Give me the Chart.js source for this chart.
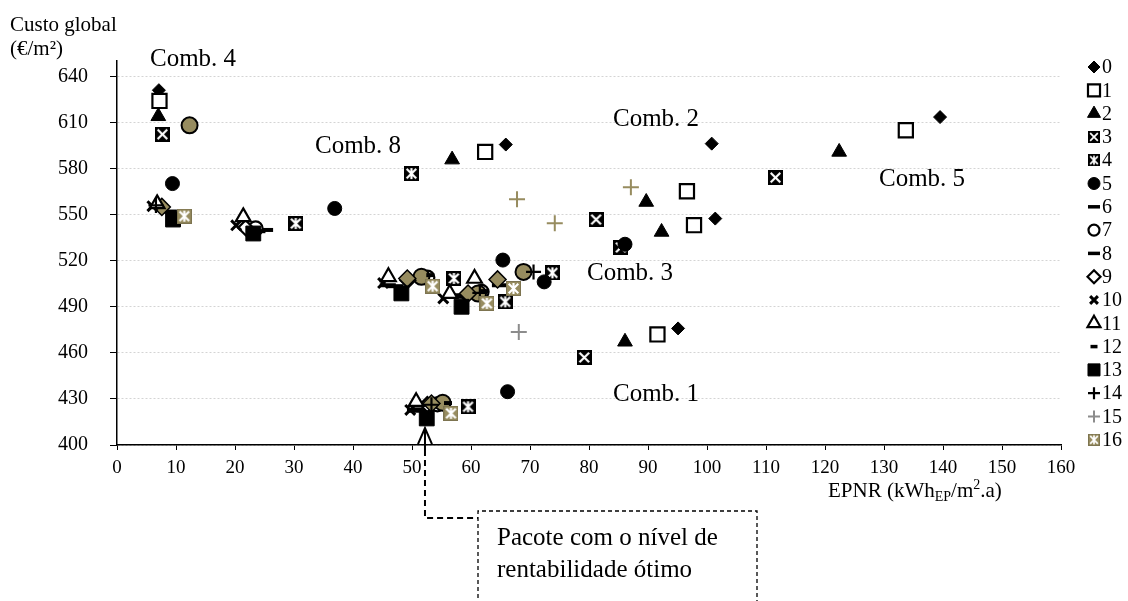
<!DOCTYPE html>
<html>
<head>
<meta charset="utf-8">
<script src="https://cdn.jsdelivr.net/npm/chart.js@4.4.0/dist/chart.umd.min.js"></script>
<style>
  html, body { margin: 0; padding: 0; background: #fff; }
  canvas { display: block; }
</style>
</head>
<body>
<canvas id="myChart" width="1128" height="601"></canvas>
<script>
// packages 0..16, points as [EPNR, custo global]
const s0 = [[7.1, 631], [65.9, 595.6], [100.8, 596.2], [139.5, 613.5], [101.4, 547.4], [95.1, 475.9]];
const s1 = [[7.2, 624], [62.4, 590.8], [96.6, 565.2], [133.7, 604.9], [97.8, 543.1], [91.6, 472]];
const s2 = [[7.0, 614], [56.8, 585.8], [89.7, 558.2], [122.4, 590.8], [92.3, 538.7], [86.1, 467.2]];
const s3 = [[7.7, 602.3], [81.2, 546.8], [111.6, 574.1], [79.2, 457], [85.4, 528.6]];
const s4 = [[49.9, 576.7], [30.3, 544.2], [57.1, 508.4], [73.8, 512.1], [65.8, 493.2], [59.5, 424.9]];
const s5 = [[9.4, 570.2], [36.9, 554], [65.4, 520.4], [72.4, 506.2], [86.1, 530.7], [66.2, 434.7]];
const s6 = [[25.1, 540], [45.9, 504], [64.9, 504], [58.1, 497.5], [50.5, 422.3]];
const s7 = [[23.5, 541], [61.8, 499.7], [52.6, 509], [54.3, 426.5]];
const s8 = [[23.8, 539.2], [47.2, 503.4], [57.3, 496.5], [51.3, 423.2], [8.8, 552]];
const s9 = [[21.8, 541.5], [49.3, 507.3], [59.3, 497.8], [52.6, 426.4]];
const s10 = [[6.0, 555.5], [20.2, 543], [45.1, 505.4], [55.3, 495.4], [49.7, 422.8]];
const s11 = [[6.8, 557], [21.4, 548.5], [46, 509.5], [60.6, 508.4], [56.4, 498.6], [50.7, 428.2]];
const s12 = [[53.1, 510.6], [56.1, 427.3], [62.3, 500.2]];
const s13 = [[9.5, 546.8], [23.1, 537.7], [48.2, 498.7], [58.4, 490], [52.5, 417.3]];
const s14 = [[6.6, 556], [70.6, 512.7], [61.5, 499], [53.3, 426.2]];
const s15 = [[68.1, 473.5]];
const s16 = [[11.4, 549], [53.5, 503.4], [67.2, 501.9], [62.7, 492.2], [56.6, 420.6]];
// extra marks in the plot that the legend does not list
const olivePlus = [[67.8, 560], [74.2, 544.4], [87.1, 567.8]];
const oliveCircle = [[12.3, 608.1], [51.6, 509.5], [68.9, 512.7], [61.2, 498.6], [55.2, 427.5]];
const oliveDiamond = [[7.6, 555], [49.2, 508.4], [64.5, 507.8], [59.5, 498.6], [53.3, 427]];

const legendLabels = ['0', '1', '2', '3', '4', '5', '6', '7', '8', '9', '10', '11', '12', '13', '14', '15', '16'];
const yTicks = [400, 430, 460, 490, 520, 550, 580, 610, 640];
const xTicks = [0, 10, 20, 30, 40, 50, 60, 70, 80, 90, 100, 110, 120, 130, 140, 150, 160];
const combLabels = [
  { text: 'Comb. 4', x: 150, y: 66 },
  { text: 'Comb. 8', x: 315, y: 153 },
  { text: 'Comb. 2', x: 613, y: 126 },
  { text: 'Comb. 5', x: 879, y: 186 },
  { text: 'Comb. 3', x: 587, y: 280 },
  { text: 'Comb. 1', x: 613, y: 401 }
];

const OLIVE = '#978c5f';
const SERIF = "'Liberation Serif', 'Times New Roman', serif";

function xSquare(size, fill, star) {
  const c = document.createElement('canvas');
  c.width = c.height = size;
  const g = c.getContext('2d');
  g.fillStyle = fill;
  g.fillRect(0, 0, size, size);
  g.strokeStyle = '#fff';
  g.lineWidth = Math.max(1.5, size / 7);
  const m = size * 0.18;
  g.beginPath();
  g.moveTo(m, m); g.lineTo(size - m, size - m);
  g.moveTo(size - m, m); g.lineTo(m, size - m);
  if (star) { g.moveTo(size / 2, m * 0.7); g.lineTo(size / 2, size - m * 0.7); }
  g.stroke();
  g.strokeStyle = fill === '#000' ? '#000' : '#7d7450';
  g.lineWidth = 1;
  g.strokeRect(0.5, 0.5, size - 1, size - 1);
  return c;
}

const img3 = xSquare(15, '#000', false);
const img4 = xSquare(15, '#000', true);
const img16 = xSquare(15, OLIVE, true);
const img3s = xSquare(12, '#000', false);
const img4s = xSquare(12, '#000', true);
const img16s = xSquare(12, OLIVE, true);

const toPts = arr => arr.map(p => ({ x: p[0], y: p[1] }));

// marker look per series (lr = radius used in the legend)
const series = [
  { data: s0, ps: 'rectRot', r: 6.5, bg: '#000', bc: '#000', bw: 1, lr: 6 },
  { data: s1, ps: 'rect', r: 10, bg: '#fff', bc: '#000', bw: 2.2, lr: 8.5 },
  { data: s2, ps: 'triangle', r: 8.5, bg: '#000', bc: '#000', bw: 1, lr: 7.5 },
  { data: s3, ps: img3, r: 8, bg: '#000', bc: '#000', bw: 1, limg: img3s },
  { data: s4, ps: img4, r: 8, bg: '#000', bc: '#000', bw: 1, limg: img4s },
  { data: s5, ps: 'circle', r: 7, bg: '#000', bc: '#000', bw: 1, lr: 6 },
  { data: s6, ps: 'line', r: 8, bg: '#000', bc: '#000', bw: 4, lr: 6 },
  { data: s7, ps: 'circle', r: 7, bg: '#fff', bc: '#000', bw: 2.2, lr: 5.5 },
  { data: s8, ps: 'line', r: 8, bg: '#000', bc: '#000', bw: 4, lr: 6 },
  { data: s9, ps: 'rectRot', r: 7.5, bg: '#fff', bc: '#000', bw: 2.2, lr: 6.5 },
  { data: s10, ps: 'crossRot', r: 7, bg: '#000', bc: '#000', bw: 3, lr: 5.5 },
  { data: s11, ps: 'triangle', r: 8.5, bg: '#fff', bc: '#000', bw: 2.2, lr: 7.5 },
  { data: s12, ps: 'line', r: 4, bg: '#000', bc: '#000', bw: 4, lr: 3.5 },
  { data: s13, ps: 'rect', r: 10.5, bg: '#000', bc: '#000', bw: 1, lr: 8.5 },
  { data: s14, ps: 'cross', r: 7.5, bg: '#000', bc: '#000', bw: 2.2, lr: 6 },
  { data: s15, ps: 'cross', r: 8, bg: '#8c8c8c', bc: '#8c8c8c', bw: 2, lr: 6 },
  { data: s16, ps: img16, r: 8, bg: OLIVE, bc: OLIVE, bw: 1, limg: img16s }
];
const extras = [
  { data: olivePlus, ps: 'cross', r: 8, bg: OLIVE, bc: OLIVE, bw: 2, after: 15 },
  { data: oliveCircle, ps: 'circle', r: 8, bg: OLIVE, bc: '#000', bw: 2, after: 7 },
  { data: oliveDiamond, ps: 'rectRot', r: 8.5, bg: OLIVE, bc: '#000', bw: 1.5, after: 9 }
];

const datasets = series.map((s, i) => ({
  label: legendLabels[i],
  data: toPts(s.data),
  pointStyle: s.ps,
  pointRadius: s.r,
  pointHoverRadius: s.r,
  pointBackgroundColor: s.bg,
  pointBorderColor: s.bc,
  pointBorderWidth: s.bw,
  order: -i * 2
}));
extras.forEach((s, k) => datasets.push({
  label: 'extra' + k,
  data: toPts(s.data),
  pointStyle: s.ps,
  pointRadius: s.r,
  pointHoverRadius: s.r,
  pointBackgroundColor: s.bg,
  pointBorderColor: s.bc,
  pointBorderWidth: s.bw,
  order: -s.after * 2 - 1
}));

const decor = {
  id: 'decor',
  beforeDraw(chart) {
    const ctx = chart.ctx;
    ctx.save();
    ctx.fillStyle = '#fff';
    ctx.fillRect(0, 0, chart.width, chart.height);
    ctx.restore();
  },
  afterDraw(chart) {
    const ctx = chart.ctx;
    const xs = chart.scales.x, ys = chart.scales.y;
    ctx.save();
    ctx.fillStyle = '#000';
    ctx.textBaseline = 'alphabetic';
    ctx.textAlign = 'left';

    // comb labels
    ctx.font = '25px ' + SERIF;
    combLabels.forEach(c => ctx.fillText(c.text, c.x, c.y));

    // y title
    ctx.font = '21px ' + SERIF;
    ctx.fillText('Custo global', 10, 31);
    ctx.fillText('(€/m²)', 10, 55);

    // x title with sub/superscript
    let x = 828;
    const base = 497;
    const part = (t, size, dy) => {
      ctx.font = size + 'px ' + SERIF;
      ctx.fillText(t, x, base + dy);
      x += ctx.measureText(t).width;
    };
    part('EPNR (kWh', 21, 0);
    part('EP', 14, 4);
    part('/m', 21, 0);
    part('2', 14, -8);
    part('.a)', 21, 0);

    // legend
    legendLabels.forEach((lab, i) => {
      const s = series[i];
      const ly = 67 + i * 23.3;
      const lx = 1094;
      if (s.limg) {
        ctx.drawImage(s.limg, lx - s.limg.width / 2, ly - s.limg.height / 2);
      } else {
        ctx.fillStyle = s.bg;
        ctx.strokeStyle = s.bc;
        ctx.lineWidth = Math.min(s.bw, 3.5);
        Chart.helpers.drawPoint(ctx, { pointStyle: s.ps, radius: s.lr, borderWidth: ctx.lineWidth, rotation: 0 }, lx, ly);
      }
      ctx.fillStyle = '#000';
      ctx.font = '20px ' + SERIF;
      ctx.textBaseline = 'middle';
      ctx.fillText(lab, 1102, ly + 1);
      ctx.textBaseline = 'alphabetic';
    });

    // arrow to the optimum package
    const ax = xs.getPixelForValue(52.2);
    const tipY = ys.getPixelForValue(411);
    ctx.strokeStyle = '#000';
    ctx.lineWidth = 2;
    ctx.beginPath();
    ctx.moveTo(ax - 7, tipY + 16);
    ctx.lineTo(ax, tipY);
    ctx.lineTo(ax + 7, tipY + 16);
    ctx.moveTo(ax, tipY);
    ctx.lineTo(ax, tipY + 22);
    ctx.stroke();
    ctx.setLineDash([6, 4]);
    ctx.beginPath();
    ctx.moveTo(ax, tipY + 22);
    ctx.lineTo(ax, 518);
    ctx.lineTo(478, 518);
    ctx.stroke();

    // dashed box
    ctx.lineWidth = 1.3;
    ctx.setLineDash([4, 3]);
    ctx.beginPath();
    ctx.moveTo(478, 605);
    ctx.lineTo(478, 511);
    ctx.lineTo(757, 511);
    ctx.lineTo(757, 605);
    ctx.stroke();
    ctx.setLineDash([]);
    ctx.font = '25px ' + SERIF;
    ctx.fillText('Pacote com o nível de', 497, 545);
    ctx.fillText('rentabilidade ótimo', 497, 577);
    ctx.restore();
  }
};

new Chart(document.getElementById('myChart').getContext('2d'), {
  type: 'scatter',
  data: { datasets },
  options: {
    responsive: false,
    devicePixelRatio: 1,
    animation: false,
    layout: { padding: { top: 61, right: 67, left: 0, bottom: 0 } },
    plugins: { legend: { display: false }, tooltip: { enabled: false } },
    scales: {
      x: {
        type: 'linear',
        min: 0,
        max: 160,
        afterBuildTicks: axis => { axis.ticks = xTicks.map(v => ({ value: v })); },
        afterFit: scale => { scale.height = 156; },
        grid: { drawOnChartArea: false, drawTicks: true, tickLength: 5, tickColor: '#000', tickWidth: 1 },
        border: { color: '#000', width: 1.5 },
        ticks: { color: '#000', padding: 7, font: { family: SERIF, size: 19 }, maxRotation: 0 }
      },
      y: {
        type: 'linear',
        min: 400,
        max: 650,
        afterBuildTicks: axis => { axis.ticks = yTicks.map(v => ({ value: v })); },
        afterFit: scale => { scale.width = 117; },
        grid: { color: '#d4d4d4', lineWidth: 1, tickLength: 7, tickColor: '#000', tickWidth: 1, tickBorderDash: [] },
        border: { color: '#000', width: 1.5, dash: [2, 2] },
        ticks: { color: '#000', padding: 22, font: { family: SERIF, size: 20 } }
      }
    }
  },
  plugins: [decor]
});
</script>
</body>
</html>
